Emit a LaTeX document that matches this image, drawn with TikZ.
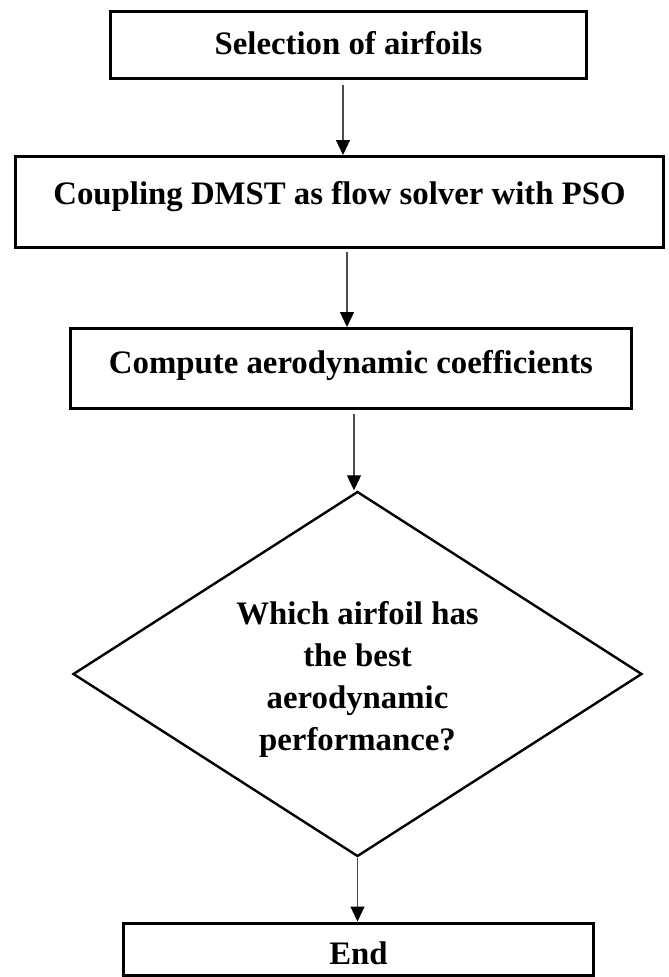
\documentclass[tikz,border=0pt]{standalone}
\usepackage{fontspec}
\setmainfont{Liberation Serif}
\usetikzlibrary{arrows.meta,shapes.geometric}
\begin{document}
\begin{tikzpicture}[x=1pt,y=-1pt,
  lbl/.style={font=\fontsize{32.8}{42}\selectfont\bfseries},
  box/.style={lbl, draw=black, line width=3pt, inner sep=0pt,
              text height=23pt, text depth=8pt},
  decision/.style={lbl, diamond, aspect=1.556, draw=black, line width=2.4pt,
              inner sep=0pt},
  flow/.style={line width=1.2pt, draw=black!70,
              -{Triangle[length=15pt,width=14pt,color=black]}}]
  % page frame
  \fill[white] (0,0) rectangle (669,977);
  \useasboundingbox (0,0) rectangle (669,977);

  % process boxes
  \node[box, minimum width=476pt, minimum height=67pt, text height=27pt] (b1) at (348.5,45)
    {Selection of airfoils};
  \node[box, minimum width=648pt, minimum height=91pt, text depth=18pt] (b2) at (339.5,202)
    {Coupling DMST as flow solver with PSO};
  \node[box, minimum width=561pt, minimum height=80pt, text depth=13pt] (b3) at (351,368.5)
    {Compute aerodynamic coefficients};

  % decision
  \node[decision, minimum width=569pt, minimum height=365pt] (q) at (357.5,674)
    {\raisebox{-5pt}[\height][\depth]{\begin{tabular}{@{}c@{}}Which airfoil has\\the best\\aerodynamic\\performance?\end{tabular}}};

  % final box
  \node[box, minimum width=470pt, minimum height=52pt, text height=38pt] (b4) at (358.5,949)
    {End};

  % connectors
  \coordinate (s1) at (343,85);
  \draw[flow] (s1) -- (s1 |- b2.north);
  \coordinate (s2) at (347,251.5);
  \draw[flow] (s2) -- (s2 |- b3.north);
  \coordinate (s3) at (354,414);
  \draw[flow] (s3) -- (s3 |- q.north);
  \draw[flow] (q.south) -- (q.south |- b4.north);
\end{tikzpicture}
\end{document}
